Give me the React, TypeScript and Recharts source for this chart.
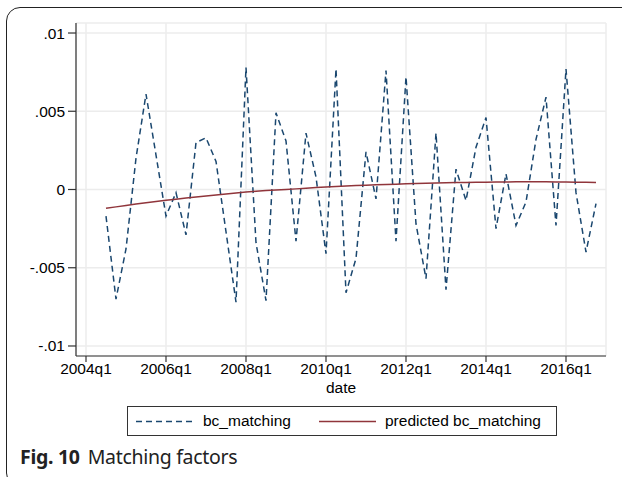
import React from "react";
import { LineChart, Line, XAxis, YAxis, CartesianGrid } from "recharts";

// quarters shown, 2004q3 .. 2016q4
const quarters = [
  "2004q3", "2004q4",
  "2005q1", "2005q2", "2005q3", "2005q4",
  "2006q1", "2006q2", "2006q3", "2006q4",
  "2007q1", "2007q2", "2007q3", "2007q4",
  "2008q1", "2008q2", "2008q3", "2008q4",
  "2009q1", "2009q2", "2009q3", "2009q4",
  "2010q1", "2010q2", "2010q3", "2010q4",
  "2011q1", "2011q2", "2011q3", "2011q4",
  "2012q1", "2012q2", "2012q3", "2012q4",
  "2013q1", "2013q2", "2013q3", "2013q4",
  "2014q1", "2014q2", "2014q3", "2014q4",
  "2015q1", "2015q2", "2015q3", "2015q4",
  "2016q1", "2016q2", "2016q3", "2016q4",
];

const bcMatching = [
  -0.0017, -0.007,
  -0.0038, 0.002, 0.0061, 0.0022,
  -0.0017, -0.0002, -0.0029, 0.003,
  0.0033, 0.0018, -0.0027, -0.0072,
  0.0078, -0.0034, -0.0071, 0.0049,
  0.0031, -0.0033, 0.0036, 0.0008,
  -0.0041, 0.0077, -0.0066, -0.0044,
  0.0024, -0.0006, 0.0076, -0.0033,
  0.0072, -0.0022, -0.0057, 0.0036,
  -0.0064, 0.0013, -0.0007, 0.0027,
  0.0046, -0.0025, 0.001, -0.0023,
  -0.0008, 0.0032, 0.0059, -0.0023,
  0.0077, -0.0002, -0.004, -0.0009,
];

const predicted = [
  -0.0012, -0.00111,
  -0.00102, -0.00093, -0.00085, -0.00077,
  -0.00069, -0.00062, -0.00055, -0.00048,
  -0.00041, -0.00035, -0.00029, -0.00023,
  -0.00016, -0.00011, -0.00007, -0.00003,
  0.0, 0.00004, 0.00008, 0.00012,
  0.00016, 0.00019, 0.00022, 0.00025,
  0.00027, 0.0003, 0.00032, 0.00034,
  0.00036, 0.00038, 0.0004, 0.00041,
  0.00043, 0.00044, 0.00045, 0.00046,
  0.00047, 0.00048, 0.00048, 0.00049,
  0.00049, 0.00049, 0.00049, 0.00048,
  0.00048, 0.00047, 0.00046, 0.00045,
];

const xTicks = [0, 8, 16, 24, 32, 40, 48];
const yTicks = [-0.01, -0.005, 0, 0.005, 0.01];

// quarter index relative to 2004q1
const qIndex = (q: string) => {
  const [y, qq] = q.split("q");
  return (Number(y) - 2004) * 4 + Number(qq) - 1;
};

const data = quarters.map((q, i) => ({
  date: qIndex(q),
  label: q,
  bc_matching: bcMatching[i],
  predicted: predicted[i],
}));

const fmtX = (v: number) => `${2004 + Math.floor(v / 4)}q${(v % 4) + 1}`;
const fmtY = (v: number) => {
  if (v === 0) return "0";
  const s = String(Math.abs(v)).replace(/^0/, "");
  return v < 0 ? "-" + s : s;
};

const NAVY = "#1a476f";
const MAROON = "#90353b";
const FONT = "Liberation Sans, Arial, sans-serif";
const FS = 15.5;

function LegendBox() {
  return (
    <div
      style={{
        position: "absolute",
        left: 127,
        top: 406,
        width: 428,
        height: 28,
        border: "1px solid #333",
        background: "#fff",
        fontFamily: FONT,
        fontSize: FS,
        lineHeight: "18px",
        color: "#000",
      }}
    >
      <svg width={428} height={28} style={{ position: "absolute", left: 0, top: 0 }}>
        <line x1={8} x2={65} y1={14.5} y2={14.5} stroke={NAVY} strokeWidth={1.5} strokeDasharray="6 4" />
        <line x1={191} x2={248} y1={14.5} y2={14.5} stroke={MAROON} strokeWidth={1.5} />
      </svg>
      <span style={{ position: "absolute", left: 75, top: 5 }}>bc_matching</span>
      <span style={{ position: "absolute", left: 257, top: 5 }}>predicted bc_matching</span>
    </div>
  );
}

export default function App() {
  return (
    <div
      style={{
        position: "absolute",
        left: 0,
        top: 0,
        width: 622,
        height: 477,
        overflow: "hidden",
        background: "#fff",
      }}
    >
      <div
        style={{
          position: "absolute",
          left: 6,
          top: 7,
          width: 660,
          height: 480,
          border: "1.5px solid #222",
          borderRadius: 14,
          boxSizing: "border-box",
        }}
      />
      <LineChart
        width={622}
        height={477}
        data={data}
        margin={{ top: 23, right: 16, left: 16, bottom: 95 }}
        style={{ position: "absolute", left: 0, top: 0, fontFamily: FONT }}
      >
        <CartesianGrid stroke="#ececec" strokeWidth={1.5} vertical horizontal />
        <XAxis
          dataKey="date"
          type="number"
          domain={[-1, 52]}
          ticks={xTicks}
          tickFormatter={fmtX}
          height={26}
          tickSize={6}
          tickMargin={1}
          stroke="#333"
          strokeWidth={1.2}
          tick={{ fill: "#000", fontSize: FS, fontFamily: FONT }}
          label={{ value: "date", position: "bottom", offset: 0, fill: "#000", fontSize: FS, fontFamily: FONT }}
        />
        <YAxis
          type="number"
          domain={[-0.01064, 0.01064]}
          ticks={yTicks}
          tickFormatter={fmtY}
          width={60}
          tickSize={8}
          tickMargin={3}
          stroke="#333"
          strokeWidth={1.2}
          allowDataOverflow
          tick={{ fill: "#000", fontSize: FS, fontFamily: FONT }}
        />
        <Line
          type="linear"
          dataKey="bc_matching"
          stroke={NAVY}
          strokeWidth={1.5}
          strokeDasharray="6 4"
          dot={false}
          isAnimationActive={false}
        />
        <Line
          type="linear"
          dataKey="predicted"
          name="predicted bc_matching"
          stroke={MAROON}
          strokeWidth={1.5}
          dot={false}
          isAnimationActive={false}
        />
      </LineChart>
      <LegendBox />
      <div
        style={{
          position: "absolute",
          left: 20,
          top: 443,
          fontFamily: "'Noto Sans', 'Open Sans', sans-serif",
          fontSize: 19.5,
          color: "#222",
          whiteSpace: "nowrap",
          letterSpacing: -0.3,
        }}
      >
        <b>Fig. 10</b>
        <span style={{ marginLeft: 8 }}>Matching factors</span>
      </div>
    </div>
  );
}
